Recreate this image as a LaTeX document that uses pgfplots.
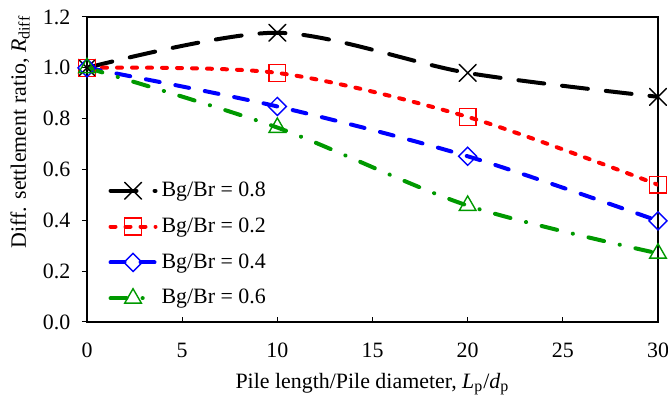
\documentclass[11pt,border=0pt]{standalone}
\usepackage{fontspec}
\setmainfont{Liberation Serif}
\usepackage{pgfplots}
\pgfplotsset{compat=1.18}
\usetikzlibrary{calc}
\begin{document}
\begin{tikzpicture}
\begin{axis}[
  name=ax,
  scale only axis,
  width=285.5pt, height=152.5pt,
  xmin=0, xmax=30, ymin=0, ymax=1.2,
  xtick={0,5,...,30}, ytick={0,0.2,...,1.2},
  xtick pos=bottom, ytick pos=left,
  tick align=outside,
  major tick length=2.5pt,
  x tick style={yshift=2.5pt, black, line width=0.5pt},
  y tick style={black, line width=0.5pt},
  axis line style={line width=0.6pt},
  /pgf/number format/assume math mode=true,
  xticklabel={\rmfamily\pgfmathprintnumber{\tick}},
  yticklabel={\rmfamily\pgfmathprintnumber[fixed, fixed zerofill, precision=1]{\tick}},
  yticklabel style={xshift=-2pt},
  xticklabel style={yshift=-4pt},
  xlabel={Pile length/Pile diameter, \textit{L}\textsubscript{p}/\textit{d}\textsubscript{p}},
  ylabel={Diff. settlement ratio, \textit{R}\textsubscript{diff}},
  xlabel style={yshift=-0.5pt},
  ylabel style={at={(axis description cs:-0.117,0.623)}, anchor=center},
  legend style={draw=none, fill=none, at={(0.037,0.474)}, anchor=north west, row sep=5pt, font=\normalsize, inner sep=0pt},
  legend cell align=left,
  legend image code/.code={
    \draw[#1, mark=none] (0cm,0cm) -- (22.5pt,0cm);
    \draw[#1, solid] plot coordinates {(11.25pt,0cm)};
  },
  every axis plot/.append style={line width=2pt, line cap=round, smooth, tension=0.5},
]
\addplot[black, dash pattern=on 13pt off 9pt, mark=x, mark size=6pt, mark options={solid, line width=0.7pt}]
  coordinates {(0,1.0) (10,1.138) (20,0.98) (30,0.886)};
\addlegendentry{Bg/Br = 0.8}
\addplot[red, dash pattern=on 2.5pt off 5pt, mark=square, mark size=4.2pt, mark options={solid, line width=0.7pt}]
  coordinates {(0,1.0) (10,0.98) (20,0.807) (30,0.54)};
\addlegendentry{Bg/Br = 0.2}
\addplot[blue, dash pattern=on 7pt off 8pt, mark=square, mark size=3.2pt, mark options={solid, rotate=45, line width=0.7pt}]
  coordinates {(0,1.0) (10,0.848) (20,0.652) (30,0.398)};
\addlegendentry{Bg/Br = 0.4}
\addplot[green!60!black, dash pattern=on 8pt off 8pt on 0.1pt off 8pt, mark=triangle, mark size=4.8pt, mark options={solid, line width=0.7pt}]
  coordinates {(0,1.0) (10,0.765) (20,0.458) (30,0.27)};
\addlegendentry{Bg/Br = 0.6}
\end{axis}
\pgfresetboundingbox
\path ($(ax.south west)+(-43.5pt,-38.5pt)$) rectangle ($(ax.north east)+(5pt,8.5pt)$);
\end{tikzpicture}
\end{document}
